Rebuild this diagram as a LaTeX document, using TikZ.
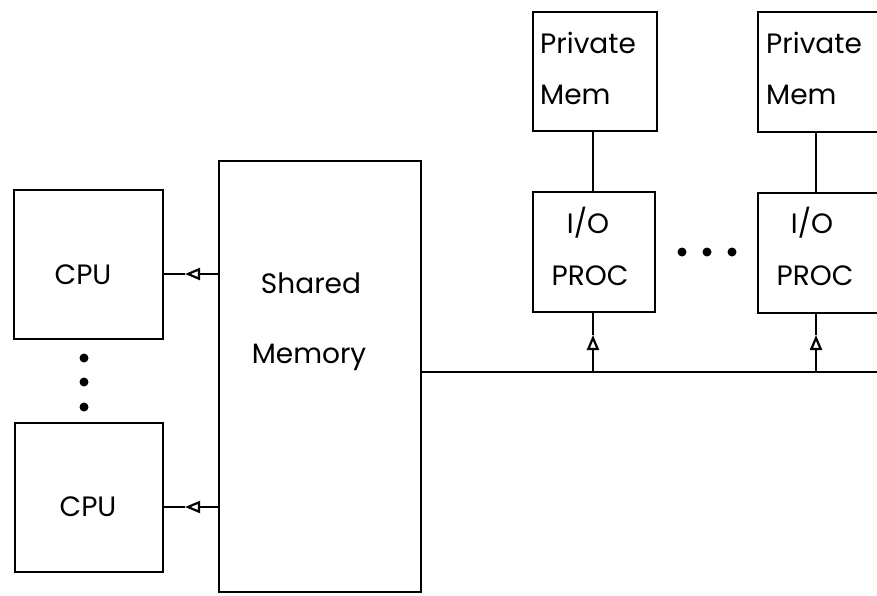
\documentclass[tikz,border=0pt]{standalone}
\usepackage{fontspec}
\setmainfont{Poppins}
\usetikzlibrary{arrows.meta}
\begin{document}
\begin{tikzpicture}[x=1pt,y=-1pt,
  box/.style={draw, line width=2.3pt, inner sep=0pt},
  lbl/.style={font=\fontsize{28}{32}\selectfont, inner sep=0pt},
  conn/.style={line width=2pt},
  tipped/.style={conn, -{Triangle[open,length=15pt,width=12pt,line width=2.2pt]}},
  dotmark/.style={circle, fill, inner sep=0pt, minimum size=9pt}]
\useasboundingbox (0,0) rectangle (877,595);
\clip (0,0) rectangle (877,595);
% boxes
\node[box, minimum width=149pt, minimum height=149pt] (cpu1) at (88.5,264.5) {};
\node[box, minimum width=148pt, minimum height=149pt] (cpu2) at (89,497.5) {};
\node[box, minimum width=202pt, minimum height=431pt] (mem) at (320,376.5) {};
\node[box, minimum width=124pt, minimum height=119pt] (pm1) at (595,71.5) {};
\node[box, minimum width=124pt, minimum height=120pt] (pm2) at (820,72) {};
\node[box, minimum width=122pt, minimum height=120pt] (io1) at (594,252) {};
\node[box, minimum width=122pt, minimum height=120pt] (io2) at (819,253) {};
% labels
\node[lbl] (cpu1t) at (83,275) {CPU};
\node[lbl] (cpu2t) at (88,507) {CPU};
\node[lbl] (memt1) at (311,283) {Shared};
\node[lbl] (memt2) at (309,357) {Memory};
\node[lbl, anchor=west] (pm1t1) at (540,43) {Private};
\node[lbl, anchor=west] (pm1t2) at (540,95) {Mem};
\node[lbl, anchor=west] (pm2t1) at (766,43) {Private};
\node[lbl, anchor=west] (pm2t2) at (766,95) {Mem};
\node[lbl] (io1t1) at (588,223) {I/O};
\node[lbl] (io1t2) at (590,276) {PROC};
\node[lbl] (io2t1) at (812,223) {I/O};
\node[lbl] (io2t2) at (815,276) {PROC};
% dots
\node[dotmark] (d1) at (84,358) {};
\node[dotmark] (d2) at (84,382) {};
\node[dotmark] (d3) at (84,407) {};
\node[dotmark] (d4) at (682,252) {};
\node[dotmark] (d5) at (707,252) {};
\node[dotmark] (d6) at (732,252) {};
% connector points
\coordinate (busend) at (877,372);
\coordinate (a1) at (219,274);
\coordinate (t1) at (185,274);
\coordinate (a2) at (219,507);
\coordinate (t2) at (185,507);
\coordinate (b1) at (593,372);
\coordinate (u1) at (593,335);
\coordinate (b2) at (816,372);
\coordinate (u2) at (816,335);
% CPU links
\draw[tipped] (a1) -- (t1);
\draw[conn] (t1) -- (cpu1.east |- t1);
\draw[tipped] (a2) -- (t2);
\draw[conn] (t2) -- (cpu2.east |- t2);
% bus
\draw[conn] (mem.east |- busend) -- (busend);
% private memory links
\draw[conn] (pm1.south -| b1) -- (io1.north -| b1);
\draw[conn] (pm2.south -| b2) -- (io2.north -| b2);
% I/O links
\draw[tipped] (b1) -- (u1);
\draw[conn] (u1) -- (io1.south -| u1);
\draw[tipped] (b2) -- (u2);
\draw[conn] (u2) -- (io2.south -| u2);
\end{tikzpicture}
\end{document}
